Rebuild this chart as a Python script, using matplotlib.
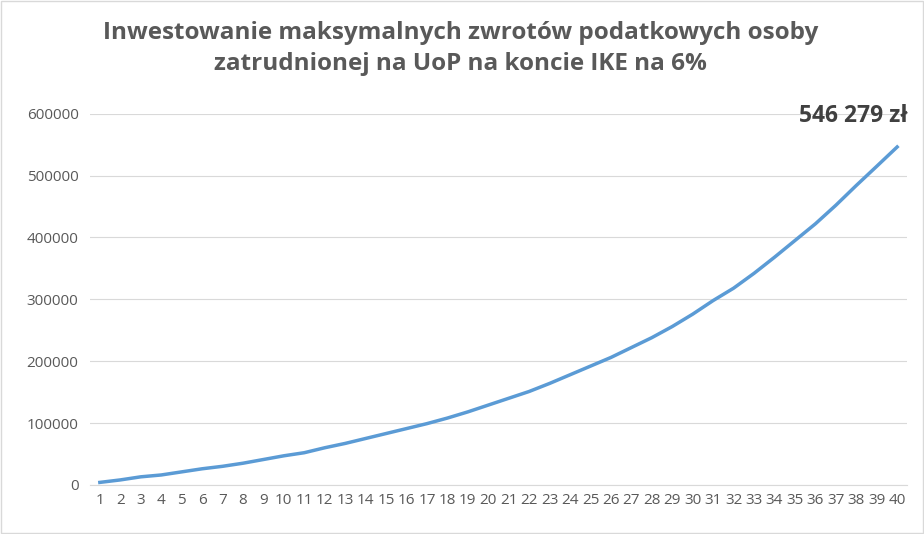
import matplotlib
matplotlib.use("Agg")
import matplotlib.pyplot as plt

years = list(range(1, 41))
values = [4000, 8000, 13000, 16000, 21000, 26000, 30000, 35000, 41000, 47000,
          52000, 60000, 67000, 75000, 83000, 91000, 99000, 108000, 118000, 129000,
          140000, 151000, 164000, 178000, 192000, 206000, 222000, 238000, 256000, 276000,
          298000, 318000, 342000, 368000, 395000, 422000, 452000, 484000, 515000, 546279]
title = "Inwestowanie maksymalnych zwrotów podatkowych osoby\nzatrudnionej na UoP na koncie IKE na 6%"
label = "546 279 zł"

plt.rcParams['font.family'] = ['Open Sans', 'DejaVu Sans']
fig = plt.figure(figsize=(9.24, 5.34), dpi=100)
ax = fig.add_axes([0.097, 0.092, 0.885, 0.695])
ax.plot(years, values, color='#5B9BD5', lw=2.5)
ax.set_xlim(0.5, 40.5)
ax.set_ylim(0, 600000)
ax.set_yticks(range(0, 600001, 100000))
ax.set_xticks(years)
ax.set_xticklabels([str(y) for y in years], fontsize=11, color='#595959')
ax.tick_params(axis='y', labelsize=11, labelcolor='#595959', length=0, pad=8)
ax.tick_params(axis='x', length=0, pad=6)
ax.grid(axis='y', color='#D9D9D9', lw=0.8)
ax.set_axisbelow(True)
for s in ['top', 'right', 'left']:
    ax.spines[s].set_visible(False)
ax.spines['bottom'].set_color('#D9D9D9')
ax.annotate(label, (years[-1], values[-1]), xytext=(8, 14), textcoords='offset points',
            ha='right', va='bottom', fontsize=16.5, fontweight='bold', color='#404040')
fig.text(0.498, 0.96, title, ha='center', va='top', fontsize=17.5, fontweight='bold',
         color='#595959', linespacing=1.35)
fig.patches.append(plt.Rectangle((0.001, 0.001), 0.998, 0.997, transform=fig.transFigure,
                                 fill=False, edgecolor='#D9D9D9', lw=1))
fig.savefig('out.png', dpi=100)
